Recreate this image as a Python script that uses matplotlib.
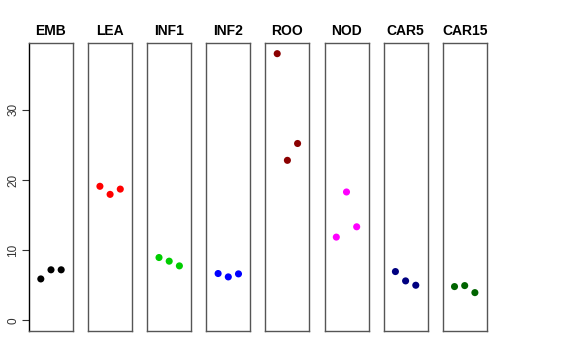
import numpy as np
import matplotlib.pyplot as plt

plt.rcParams['font.family'] = ['Liberation Sans', 'DejaVu Sans']

groups = ['EMB', 'LEA', 'INF1', 'INF2', 'ROO', 'NOD', 'CAR5', 'CAR15']
colors = ['black', '#FF0000', '#00CD00', '#0000FF', '#8B0000', '#FF00FF', '#000080', '#006400']

emb = [5.9, 7.2, 7.2]
lea = [19.1, 17.95, 18.7]
inf1 = [8.95, 8.43, 7.76]
inf2 = [6.67, 6.19, 6.62]
roo = [38.0, 22.8, 25.2]
nod = [11.86, 18.29, 13.33]
car5 = [6.95, 5.62, 5.0]
car15 = [4.81, 4.95, 3.95]
values = [emb, lea, inf1, inf2, roo, nod, car5, car15]

yticks = [0, 10, 20, 30]

W, H = 576, 360
fig = plt.figure(figsize=(W / 100, H / 100), dpi=100, facecolor='white')

y_lo, y_hi = 0, 38
y_pad = 0.04 * (y_hi - y_lo)
x_pad = 0.04 * 4

for i, (name, vals, col) in enumerate(zip(groups, values, colors)):
    left = 29 + i * 59.1
    ax = fig.add_axes([left / W, 1 - 331 / H, 44 / W, 288 / H])
    xs = np.arange(1, len(vals) + 1)
    ax.scatter(xs, vals, s=26, color=col, edgecolors='none', zorder=3)
    ax.set_xlim(0 - x_pad, 4 + x_pad)
    ax.set_ylim(y_lo - y_pad, y_hi + y_pad)
    ax.set_xticks([])
    for sp in ax.spines.values():
        sp.set_color('#555555')
        sp.set_linewidth(1.0)
    ax.set_title(name, fontsize=10, fontweight='bold', pad=6)
    if i == 0:
        ax.set_yticks(yticks)
        ax.set_yticklabels([str(t) for t in yticks], rotation=90, va='center', fontsize=8.5, color='#333333')
        ax.tick_params(axis='y', length=5, width=0.8, color='#333333', pad=2)
        ax.spines['left'].set_color('black')
    else:
        ax.set_yticks([])

fig.savefig('out.png', dpi=100, facecolor='white')
